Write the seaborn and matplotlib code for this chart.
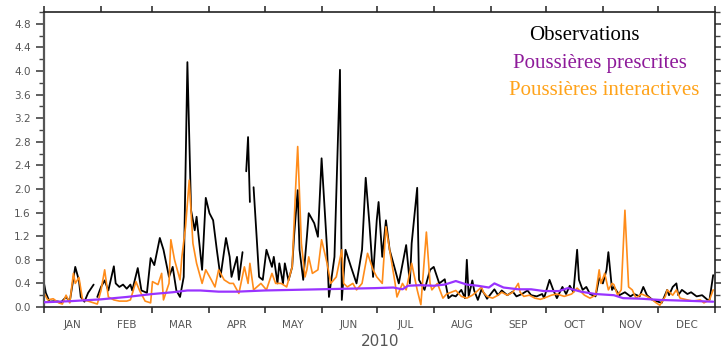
import numpy as np
import pandas as pd
import matplotlib
matplotlib.use("Agg")
import matplotlib.pyplot as plt
import seaborn as sns

# ---------------- data (day of year 2010, value) ----------------
obs_days = [0, 1, 3, 6, 8, 9, 12, 14, 17, 19, 20, 22, 24, 27, 28, 29, 31, 33, 35, 38,
            39, 41, 43, 45, 47, 48, 51, 53, 56, 58, 60, 63, 65, 68, 70, 72, 74, 76, 78, 80,
            82, 83, 86, 88, 90, 92, 94, 96, 99, 101, 102, 105, 106, 108, 109, 110, 111, 112, 113, 114,
            116, 117, 119, 121, 124, 125, 127, 128, 130, 131, 133, 135, 136, 138, 139, 141, 143, 144, 147, 149,
            151, 154, 155, 158, 161, 162, 164, 167, 170, 173, 175, 177, 179, 181, 182, 184, 186, 188, 191, 193,
            197, 199, 200, 203, 204, 207, 210, 212, 215, 218, 220, 222, 224, 227, 229, 230, 231, 233, 234, 236,
            238, 240, 241, 243, 245, 247, 249, 252, 255, 257, 260, 263, 265, 268, 271, 272, 275, 277, 279, 282,
            284, 286, 288, 290, 291, 293, 295, 297, 300, 302, 304, 306, 307, 309, 310, 313, 316, 319, 321, 324,
            326, 328, 331, 333, 336, 339, 340, 342, 344, 345, 347, 350, 352, 355, 358, 361, 362, 364]
obs_vals = [0.40, 0.24, 0.09, 0.10, 0.09, 0.07, 0.17, 0.09, 0.68, 0.45, 0.17, 0.09, 0.24, 0.38, np.nan, 0.17, 0.34, 0.45, 0.28, 0.69,
            0.40, 0.34, 0.38, 0.31, 0.38, 0.28, 0.66, 0.28, 0.24, 0.83, 0.71, 1.17, 0.97, 0.51, 0.68, 0.28, 0.17, 0.51, 4.15, 1.64,
            1.30, 1.53, 0.63, 1.85, 1.59, 1.47, 0.97, 0.51, 1.17, 0.85, 0.51, 0.85, 0.46, 0.93, np.nan, 2.30, 2.88, 1.78, np.nan, 2.03,
            1.02, 0.51, 0.46, 0.97, 0.68, 0.85, 0.40, 0.74, 0.40, 0.74, 0.45, 0.68, 1.19, 1.98, 0.97, 0.46, 1.19, 1.59, 1.42, 1.19,
            2.52, 0.97, 0.17, 0.85, 4.02, 0.12, 0.97, 0.68, 0.40, 0.97, 2.19, 1.42, 0.51, 1.47, 1.78, 0.85, 1.47, 0.97, 0.63, 0.40,
            1.05, 0.40, 1.08, 2.02, 0.46, 0.29, 0.63, 0.68, 0.40, 0.47, 0.15, 0.20, 0.18, 0.29, 0.15, 0.80, 0.18, 0.45, 0.28, 0.12,
            0.30, 0.20, 0.14, 0.22, 0.30, 0.20, 0.28, 0.20, 0.26, 0.18, 0.22, 0.28, 0.20, 0.18, 0.22, 0.15, 0.46, 0.29, 0.15, 0.34,
            0.22, 0.36, 0.25, 0.97, 0.46, 0.29, 0.34, 0.22, 0.18, 0.49, 0.40, 0.63, 0.93, 0.29, 0.34, 0.20, 0.25, 0.18, 0.22, 0.18,
            0.34, 0.20, 0.12, 0.10, 0.07, 0.29, 0.20, 0.34, 0.40, 0.20, 0.29, 0.22, 0.25, 0.18, 0.20, 0.12, 0.12, 0.54]

inter_days = [0, 2, 5, 8, 10, 12, 14, 16, 17, 19, 21, 24, 27, 29, 31, 33, 35, 38, 41, 45,
              47, 50, 52, 55, 58, 59, 62, 64, 65, 68, 69, 71, 74, 75, 77, 79, 81, 83, 86, 88,
              91, 93, 95, 98, 101, 103, 106, 109, 111, 112, 114, 118, 121, 124, 126, 129, 132, 135, 137, 138,
              140, 142, 143, 144, 146, 149, 151, 154, 156, 159, 162, 163, 165, 168, 170, 173, 176, 179, 181, 184,
              186, 188, 191, 192, 195, 197, 200, 203, 205, 208, 210, 211, 214, 217, 219, 224, 227, 230, 233, 235,
              238, 239, 241, 244, 247, 249, 252, 255, 258, 259, 261, 264, 267, 270, 272, 276, 279, 283, 287, 290,
              294, 297, 300, 302, 303, 305, 307, 309, 310, 312, 314, 316, 318, 320, 322, 325, 328, 331, 333, 335,
              338, 339, 342, 344, 346, 350, 353, 357, 359, 362, 364]
inter_vals = [0.24, 0.12, 0.14, 0.07, 0.05, 0.20, 0.07, 0.57, 0.40, 0.50, 0.12, 0.10, 0.07, 0.05, 0.28, 0.63, 0.17, 0.12, 0.10, 0.10,
              0.12, 0.43, 0.28, 0.10, 0.07, 0.43, 0.38, 0.57, 0.12, 0.40, 1.14, 0.80, 0.46, 0.85, 1.36, 2.15, 1.08, 0.74, 0.40, 0.63,
              0.46, 0.34, 0.63, 0.46, 0.40, 0.40, 0.23, 0.68, 0.40, 0.74, 0.29, 0.40, 0.29, 0.57, 0.40, 0.40, 0.34, 0.68, 2.10, 2.72,
              1.08, 0.51, 0.63, 0.85, 0.57, 0.63, 1.14, 0.74, 0.40, 0.51, 0.97, 0.40, 0.34, 0.40, 0.29, 0.40, 0.91, 0.63, 0.51, 0.40,
              1.36, 0.97, 0.40, 0.17, 0.40, 0.29, 0.74, 0.29, 0.04, 1.27, 0.40, 0.29, 0.40, 0.15, 0.22, 0.28, 0.18, 0.15, 0.20, 0.25,
              0.34, 0.25, 0.18, 0.15, 0.20, 0.25, 0.20, 0.25, 0.40, 0.25, 0.18, 0.20, 0.15, 0.13, 0.15, 0.20, 0.22, 0.18, 0.22, 0.32,
              0.20, 0.15, 0.20, 0.63, 0.40, 0.57, 0.29, 0.40, 0.38, 0.20, 0.29, 1.64, 0.34, 0.29, 0.15, 0.22, 0.18, 0.12, 0.07, 0.03,
              0.18, 0.29, 0.20, 0.29, 0.15, 0.12, 0.10, 0.12, 0.07, 0.12, 0.29]

presc_days = [0, 15, 31, 45, 59, 70, 78, 85, 95, 105, 120, 135, 150, 165, 180, 190, 195, 198, 205, 212,
              218, 224, 230, 236, 242, 245, 250, 258, 265, 272, 280, 285, 292, 300, 310, 315, 325, 335, 345, 355, 364]
presc_vals = [0.08, 0.10, 0.13, 0.17, 0.22, 0.25, 0.28, 0.28, 0.26, 0.26, 0.28, 0.29, 0.30, 0.31, 0.32, 0.33, 0.30, 0.36, 0.37, 0.36,
              0.38, 0.44, 0.38, 0.36, 0.33, 0.40, 0.33, 0.30, 0.30, 0.27, 0.27, 0.32, 0.26, 0.22, 0.20, 0.15, 0.14, 0.12, 0.11, 0.10, 0.09]

month_starts = [0, 31, 59, 90, 120, 151, 181, 212, 243, 273, 304, 334, 365]
month_labels = ["JAN", "FEB", "MAR", "APR", "MAY", "JUN", "JUL", "AUG", "SEP", "OCT", "NOV", "DEC"]
year_label = "2010"
legend_labels = ["Observations", "Poussières prescrites", "Poussières interactives"]

# ---------------- build frames ----------------
obs = pd.DataFrame({"day": obs_days, "val": obs_vals})
obs["seg"] = obs["val"].isna().cumsum()
obs = obs.dropna()
inter = pd.DataFrame({"day": inter_days, "val": inter_vals})
presc = pd.DataFrame({"day": presc_days, "val": presc_vals})

sns.set_theme(style="ticks")
plt.rcParams["font.family"] = ["DejaVu Sans"]

fig = plt.figure(figsize=(7.21, 3.55), dpi=100)
ax = fig.add_axes([44 / 721, 1 - 307 / 355, (715 - 44) / 721, (307 - 12) / 355])

sns.lineplot(data=presc, x="day", y="val", color="#9933ff", lw=1.6, ax=ax, zorder=3)
sns.lineplot(data=obs, x="day", y="val", units="seg", estimator=None, color="black", lw=1.3, ax=ax, zorder=1)
sns.lineplot(data=inter, x="day", y="val", color="#ff8c1a", lw=1.2, ax=ax, zorder=2)

ax.set_xlim(0, 365)
ax.set_ylim(0, 5.0)
ax.set_xlabel("")
ax.set_ylabel("")

gray = "#555555"
# x ticks
ax.set_xticks(month_starts)
ax.set_xticklabels([])
mids = [(month_starts[i] + month_starts[i + 1]) / 2 for i in range(12)]
ax.set_xticks(mids, minor=True)
ax.set_xticklabels(month_labels, minor=True)
ax.tick_params(axis="x", which="major", direction="out", length=4, width=1.2, top=True, bottom=True, color="#333333")
ax.tick_params(axis="x", which="minor", length=0, labelsize=7.5, labelcolor=gray, pad=9)

# y ticks
yt = np.round(np.arange(0, 4.81, 0.4), 1)
ax.set_yticks(yt)
ax.set_yticklabels([f"{v:.1f}" for v in yt])
ax.set_yticks(np.round(np.arange(0, 5.01, 0.2), 1), minor=True)
ax.tick_params(axis="y", which="major", direction="out", length=6, width=1.2, left=True, right=True,
               labelsize=7.5, labelcolor=gray, color="#444444")
ax.tick_params(axis="y", which="minor", direction="out", length=3.5, width=1.0, left=True, right=True, color="#444444")

for s in ["top", "bottom", "right"]:
    ax.spines[s].set_visible(True)
    ax.spines[s].set_color("#222222")
    ax.spines[s].set_linewidth(1.2)
ax.spines["left"].set_color("#555555")
ax.spines["left"].set_linewidth(1.6)

fig.text(380 / 721, 1 - 341 / 355, year_label, ha="center", va="center", fontsize=11, color=gray)

# text legend
serif = ["Liberation Serif", "DejaVu Serif"]
fig.text(529 / 721, 1 - 40 / 355, legend_labels[0], ha="left", va="baseline", fontsize=15,
         color="black", family=serif)
fig.text(513 / 721, 1 - 68 / 355, legend_labels[1], ha="left", va="baseline", fontsize=15,
         color="#8e1a9a", family=serif)
fig.text(509 / 721, 1 - 95 / 355, legend_labels[2], ha="left", va="baseline", fontsize=15,
         color="#ffa31a", family=serif)

fig.savefig("out.png", dpi=100, facecolor="white")
